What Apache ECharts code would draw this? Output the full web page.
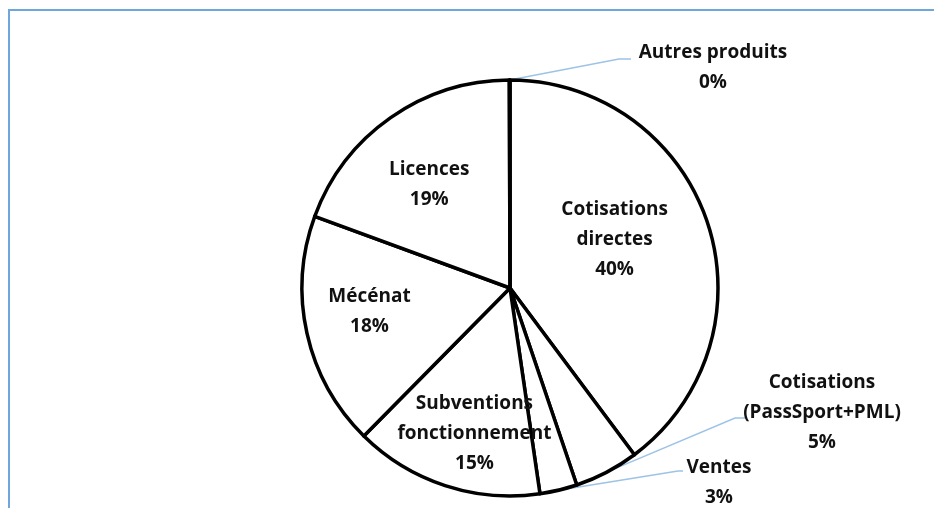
<!DOCTYPE html>
<html>
<head>
<meta charset="utf-8">
<script src="https://cdn.jsdelivr.net/npm/echarts@6/dist/echarts.min.js"></script>
<style>
html,body{margin:0;padding:0;background:#fff;}
#chart{width:934px;height:508px;}
</style>
</head>
<body>
<div id="chart"></div>
<script>
// ---- data ----
const categories = ["Cotisations directes", "Cotisations (PassSport+PML)", "Ventes", "Subventions fonctionnement", "Mécénat", "Licences", "Autres produits"];
const labelTexts = ["Cotisations\ndirectes", "Cotisations\n(PassSport+PML)", "Ventes", "Subventions\nfonctionnement", "Mécénat", "Licences", "Autres produits"];
const values = [39.8, 5.0, 2.9, 14.7, 18.2, 19.35, 0.05];
const outsideIdx = [1, 2, 6];

// ---- styles / label placement (not data) ----
const outsideLabelPos = {
  1: {x: 822, y: 413, line: [[735, 418], [745, 418]]},
  2: {x: 719, y: 483, line: [[678, 471], [683, 471]]},
  6: {x: 713, y: 68, line: [[619, 59], [631, 59]]}
};
const insideLabelShift = {0: [-34, -2], 3: [10, 7], 4: [2, -8], 5: [3, 16]};
const fontBase = {fontFamily: 'Open Sans', fontWeight: 'bold', fontSize: 19, lineHeight: 30, color: '#111'};

const chart = echarts.init(document.getElementById('chart'), null, {renderer: 'canvas'});

function fmt(p) {
  return labelTexts[p.dataIndex] + '\n' + Math.round(p.percent) + '%';
}

const outerData = categories.map((c, i) => ({
  name: c, value: values[i],
  label: {show: outsideIdx.indexOf(i) >= 0},
  labelLine: {show: outsideIdx.indexOf(i) >= 0}
}));
const innerData = categories.map((c, i) => ({
  name: c, value: values[i],
  label: {show: outsideIdx.indexOf(i) < 0}
}));

chart.setOption({
  animation: false,
  backgroundColor: '#fff',
  graphic: [{
    type: 'rect', shape: {x: 9, y: 10, width: 1000, height: 600},
    style: {fill: 'none', stroke: '#6fa6dc', lineWidth: 2}, silent: true, z: 0
  }],
  series: [{
    type: 'pie',
    center: [510, 288],
    radius: 208,
    startAngle: 90,
    clockwise: true,
    avoidLabelOverlap: false,
    data: outerData,
    itemStyle: {color: '#fff', borderColor: '#000', borderWidth: 3.5},
    emphasis: {disabled: true},
    label: Object.assign({position: 'outside', formatter: fmt}, fontBase),
    labelLine: {show: true, length: 20, length2: 10, lineStyle: {color: '#9dc3e6', width: 1.5}},
    labelLayout: function (params) {
      const cfg = outsideLabelPos[params.dataIndex];
      if (!cfg) return {};
      const p0 = params.labelLinePoints ? params.labelLinePoints[0] : cfg.line[0];
      return {
        x: cfg.x, y: cfg.y, align: 'center', verticalAlign: 'middle',
        labelLinePoints: [p0, cfg.line[0], cfg.line[1]]
      };
    }
  }, {
    type: 'pie',
    center: [510, 288],
    radius: [78, 208],
    startAngle: 90,
    clockwise: true,
    silent: true,
    avoidLabelOverlap: false,
    data: innerData,
    itemStyle: {color: 'rgba(0,0,0,0)', borderWidth: 0},
    label: Object.assign({position: 'inside', formatter: fmt}, fontBase),
    labelLine: {show: false},
    labelLayout: function (params) {
      const s = insideLabelShift[params.dataIndex];
      return s ? {dx: s[0], dy: s[1]} : {};
    },
    z: 3
  }]
});
</script>
</body>
</html>
